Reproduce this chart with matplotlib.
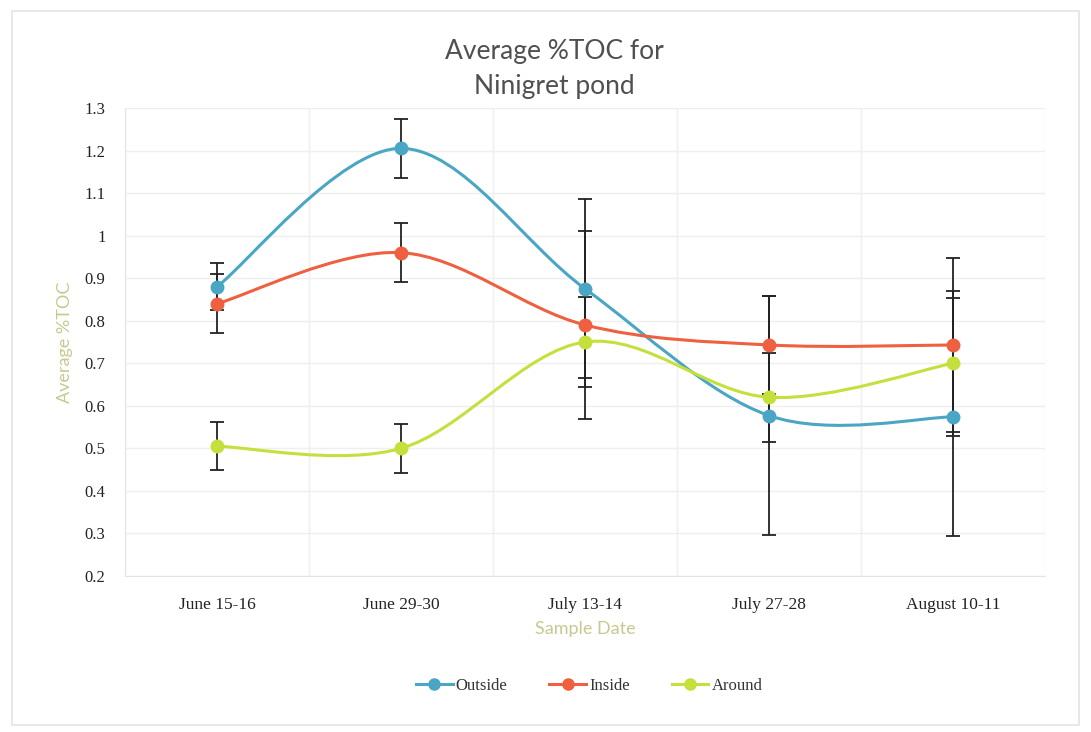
import numpy as np
import matplotlib
matplotlib.use("Agg")
import matplotlib.pyplot as plt
from matplotlib.path import Path
from matplotlib.patches import PathPatch, Rectangle
from matplotlib.lines import Line2D

# data
dates = ["June 15-16", "June 29-30", "July 13-14", "July 27-28", "August 10-11"]
outside = [0.88, 1.205, 0.875, 0.577, 0.574]
inside = [0.84, 0.96, 0.79, 0.743, 0.743]
around = [0.505, 0.50, 0.75, 0.62, 0.70]
outside_err = [0.055, 0.07, 0.21, 0.28, 0.28]
inside_err = [0.07, 0.07, 0.22, 0.115, 0.205]
around_err = [0.057, 0.058, 0.105, 0.105, 0.17]

c_out = "#4aa6c4"
c_in = "#ee6040"
c_ar = "#c5df3c"
label_col = "#c8c890"


def smooth_path(x, y):
    """bezier curve like excel's smoothed line"""
    pts = np.column_stack([x, y]).astype(float)
    n = len(pts)
    verts = [pts[0]]
    codes = [Path.MOVETO]
    for i in range(n - 1):
        p0 = pts[max(i - 1, 0)]
        p1 = pts[i]
        p2 = pts[i + 1]
        p3 = pts[min(i + 2, n - 1)]
        verts += [p1 + (p2 - p0) / 6.0, p2 - (p3 - p1) / 6.0, p2]
        codes += [Path.CURVE4] * 3
    return Path(verts, codes)


fig = plt.figure(figsize=(10.91, 7.32), dpi=100)
fig.patch.set_facecolor("white")
fig.patches.append(Rectangle((0.011, 0.01), 0.978, 0.975, transform=fig.transFigure,
                             fill=False, edgecolor="#e4e4e4", lw=1.2))

ax = fig.add_axes([0.1146, 0.2131, 0.8434, 0.6394])
xs = np.arange(len(dates))

series = [(outside, outside_err, c_out, "Outside"),
          (inside, inside_err, c_in, "Inside"),
          (around, around_err, c_ar, "Around")]

for vals, err, col, name in series:
    ax.add_patch(PathPatch(smooth_path(xs, vals), facecolor="none", edgecolor=col, lw=2.2, zorder=3))

for vals, err, col, name in series:
    ax.errorbar(xs, vals, yerr=err, fmt="none", ecolor="#222222", elinewidth=1.3,
                capsize=5, capthick=1.3, zorder=4)

for vals, err, col, name in series:
    ax.plot(xs, vals, "o", color=col, ms=9, zorder=5)

ax.set_xlim(-0.5, len(dates) - 0.5)
ax.set_ylim(0.2, 1.3)
ax.set_yticks(np.round(np.arange(0.2, 1.31, 0.1), 1))
ax.set_yticklabels(["0.2", "0.3", "0.4", "0.5", "0.6", "0.7", "0.8", "0.9", "1", "1.1", "1.2", "1.3"],
                   family="Liberation Serif", fontsize=12, color="#222222")
ax.set_xticks(xs)
ax.set_xticklabels(dates, family="Liberation Serif", fontsize=12.5, color="#222222")
ax.set_xticks(np.arange(-0.5, len(dates)), minor=True)
ax.grid(True, which="minor", axis="x", color="#efefef", lw=1)
ax.grid(True, which="major", axis="y", color="#efefef", lw=1)
ax.tick_params(axis="both", which="both", length=0)
ax.tick_params(axis="x", pad=15)
ax.tick_params(axis="y", pad=14)
for s in ax.spines.values():
    s.set_visible(False)
ax.spines["left"].set_visible(True)
ax.spines["left"].set_color("#e4e4e4")
ax.spines["bottom"].set_visible(True)
ax.spines["bottom"].set_color("#e4e4e4")
ax.set_axisbelow(True)

ax.set_xlabel("Sample Date", family="Lato", fontsize=13, color=label_col, labelpad=6)
ax.set_ylabel("Average %TOC", family="Lato", fontsize=13, color=label_col, labelpad=8)
fig.text(0.508, 0.906, "Average %TOC for\nNinigret pond", ha="center", va="center",
         family="Lato", fontsize=19, color="#505050", linespacing=1.5)

handles = [Line2D([], [], color=col, lw=2.2, marker="o", ms=8, label=name)
           for vals, err, col, name in series]
fig.legend(handles=handles, loc="center", bbox_to_anchor=(0.54, 0.063), ncol=3, frameon=False,
           prop={"family": "Liberation Serif", "size": 12}, handlelength=2.2,
           handletextpad=0.2, columnspacing=2.5, labelcolor="#333333")

fig.savefig("out.png", dpi=100)
